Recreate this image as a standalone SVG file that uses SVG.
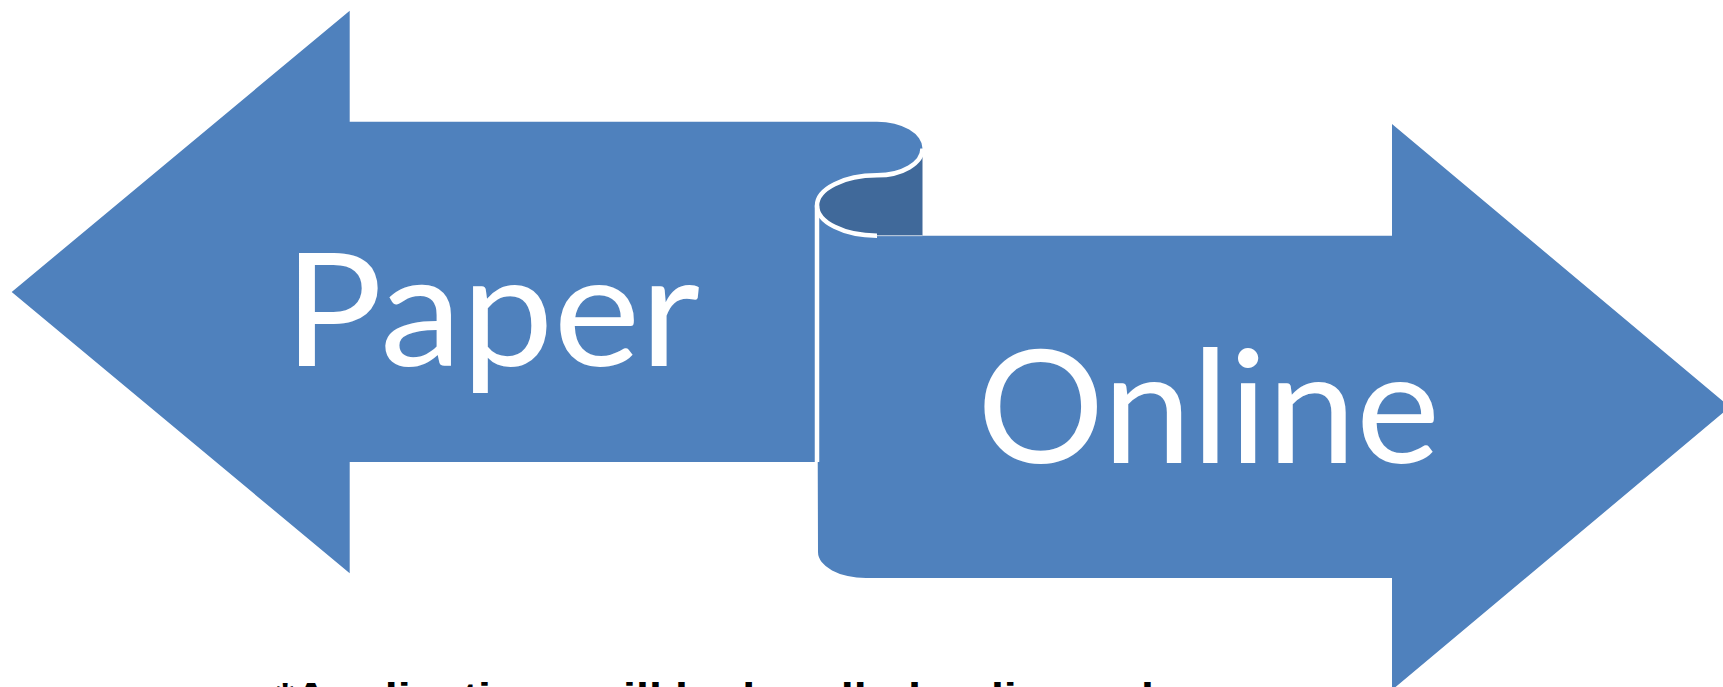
<svg xmlns="http://www.w3.org/2000/svg" width="1723" height="687" viewBox="0 0 1723 687">
  <style>
    .body { fill: #4F81BD; }
    .curl { fill: #40699A; }
    .seam { fill: none; stroke: #FFFFFF; stroke-width: 4.5; }
    .label { fill: #FFFFFF; font-family: Lato, "Open Sans", "Liberation Sans", sans-serif; font-size: 157px; }
    .note { fill: #000000; font-family: "Liberation Sans", Arial, sans-serif; font-weight: bold; font-size: 36px; }
  </style>
  <rect width="1723" height="687" fill="#FFFFFF"/>
  <g id="online-arrow">
    <path class="body" d="M817,205.5 A60,30.2 0 0 0 877,235.7 L1392,235.7 L1392,124 L1730,407 L1392,690 L1392,578 L866,578 A48,26 0 0 1 818,552 Z"/>
    <text class="label" x="977" y="463" textLength="463" lengthAdjust="spacingAndGlyphs">Online</text>
  </g>
  <g id="paper-arrow">
    <path class="body" d="M11.7,292 L349.7,10.7 L349.7,121.7 L877,121.7 A45.5,26.8 0 0 1 922.5,148.5 A45.5,26.8 0 0 1 877,175.3 A60,30.2 0 0 0 817,205.5 L815,205.5 L815,462 L349.7,462 L349.7,573.3 Z"/>
    <text class="label" x="284" y="366" textLength="416" lengthAdjust="spacingAndGlyphs">Paper</text>
  </g>
  <g id="scroll-curl">
    <path class="curl" d="M877,175.3 A60,30.2 0 0 0 817,205.5 A60,30.2 0 0 0 877,235.7 L922.5,235.7 L922.5,148.5 A45.5,26.8 0 0 1 877,175.3 Z"/>
    <path class="seam" d="M922.5,148.5 A45.5,26.8 0 0 1 877,175.3 A60,30.2 0 0 0 817,205.5 A60,30.2 0 0 0 877,235.7"/>
    <path class="seam" d="M817,205.5 L817,462"/>
    <path d="M877,235.7 L922.5,235.7" fill="none" stroke="#FFFFFF" stroke-opacity="0.5" stroke-width="1.2"/>
  </g>
  <g id="connectors"></g>
  <g id="caption">
    <text class="note" x="276" y="709" textLength="904" lengthAdjust="spacingAndGlyphs">*Applications will be handled online only</text>
  </g>
</svg>
